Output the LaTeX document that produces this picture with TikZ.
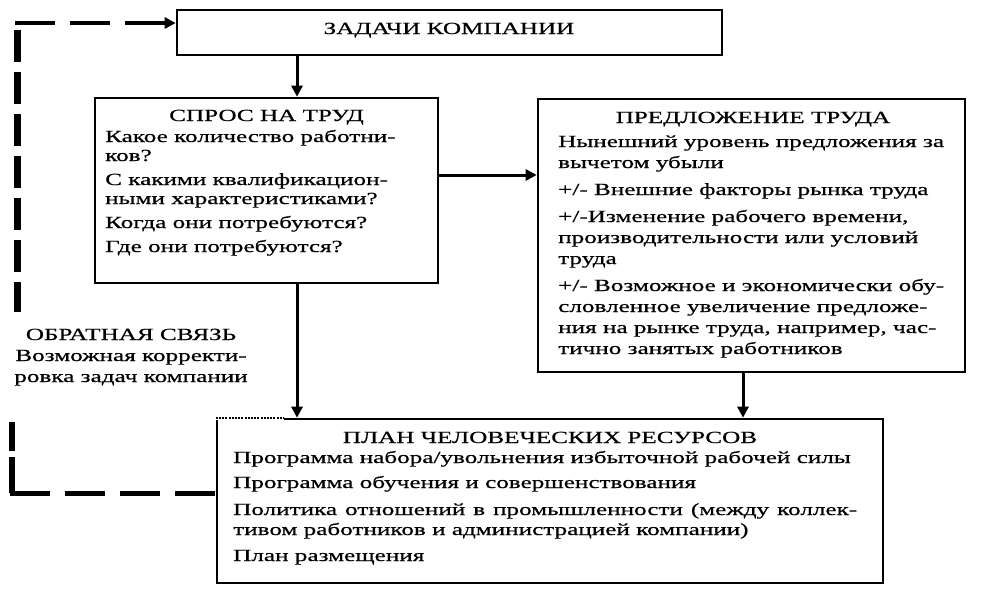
\documentclass[tikz,border=0pt]{standalone}
\usepackage{fontspec}
\setmainfont{Liberation Serif}[FakeStretch=1.48,FakeBold=0.6]
\usetikzlibrary{arrows.meta}
\begin{document}
\begin{tikzpicture}[x=1pt,y=-1pt,
  box/.style={draw, line width=2.6pt, inner sep=0pt},
  arr/.style={line width=3pt, -{Triangle[width=11pt,length=11pt]}},
  txt/.style={inner sep=0pt, font=\fontsize{17}{19}\selectfont},
  ttl/.style={inner sep=0pt, anchor=base, font=\fontsize{17}{19}\selectfont}]
\useasboundingbox[fill=white] (0,0) rectangle (981,603);

% boxes
\node[box, minimum width=545pt, minimum height=45pt] (top) at (449.5,32.5) {};
\node[box, minimum width=343pt, minimum height=185pt] (spros) at (266.5,190.5) {};
\node[box, minimum width=427pt, minimum height=273pt] (pred) at (751.5,235.5) {};
\node[box, minimum width=666pt, minimum height=164pt] (plan) at (550,501) {};
\draw[white, line width=4pt] ([xshift=-2pt]plan.north west) -- ([xshift=68pt]plan.north west);
\draw[line width=1.6pt, dash pattern=on 2pt off 1.2pt] (plan.north west) -- ([xshift=68pt]plan.north west);

% titles
\node[ttl] (tTop) at (449,34) {ЗАДАЧИ КОМПАНИИ};
\node[ttl] (tSpros) at (266.5,121) {СПРОС НА ТРУД};
\node[ttl] (tPred) at (753,123) {ПРЕДЛОЖЕНИЕ ТРУДА};
\node[ttl] (tPlan) at (550,443) {ПЛАН ЧЕЛОВЕЧЕСКИХ РЕСУРСОВ};

% lists
\node[txt, anchor=base west] (lSpros) at (105,142) {\begin{tabular}[t]{@{}l@{}}
Какое количество работни-\\
ков?\\[5pt]
С какими квалификацион-\\
ными характеристиками?\\[5pt]
Когда они потребуются?\\[5pt]
Где они потребуются?
\end{tabular}};

\node[txt, anchor=base west, font=\fontsize{17}{21}\selectfont] (lPred) at (558,147) {\begin{tabular}[t]{@{}l@{}}
Нынешний уровень предложения за\\
вычетом убыли\\[6pt]
+/- Внешние факторы рынка труда\\[6pt]
+/-Изменение рабочего времени,\\
производительности или условий\\
труда\\[6pt]
+/- Возможное и экономически обу-\\
словленное увеличение предложе-\\
ния на рынке труда, например, час-\\
тично занятых работников
\end{tabular}};

\node[txt, anchor=base west, font=\fontsize{17}{20}\selectfont] (lPlan) at (233,463) {\begin{tabular}[t]{@{}l@{}}
Программа набора/увольнения избыточной рабочей силы\\[5pt]
Программа обучения и совершенствования\\[7pt]
\makebox[624pt][s]{Политика отношений в промышленности (между коллек-}\\
тивом работников и администрацией компании)\\[6pt]
План размещения
\end{tabular}};

\node[txt, anchor=base, font=\fontsize{17}{21}\selectfont] (fb) at (131,340) {\begin{tabular}[t]{@{}c@{}}
ОБРАТНАЯ СВЯЗЬ\\
Возможная корректи-\\
ровка задач компании
\end{tabular}};

% arrows
\coordinate (cx1) at (297,0);
\coordinate (cx2) at (743,0);
\coordinate (cy1) at (0,175);
\draw[arr] (top.south -| cx1) -- (spros.north -| cx1);
\draw[arr] (spros.east |- cy1) -- (pred.west |- cy1);
\draw[arr] (spros.south -| cx1) -- (plan.north -| cx1);
\draw[arr] (pred.south -| cx2) -- (plan.north -| cx2);

% feedback dashed lines
\coordinate (fbH) at (15,23);
\coordinate (fbV1) at (17,30);
\coordinate (fbV2) at (17,312);
\coordinate (fbB1) at (12,422);
\coordinate (fbB2) at (12,493);
\draw[line width=4pt, dash pattern=on 40pt off 15pt, -{Triangle[width=11pt,length=11pt]}]
  (fbH) -- (top.west |- fbH);
\draw[line width=7pt, dash pattern=on 32pt off 10pt] (fbV1) -- (fbV2);
\draw[line width=6pt, dash pattern=on 36pt off 6pt] (fbB2) -- (fbB1);
\draw[line width=5pt, dash pattern=on 40pt off 15pt] ([xshift=-2pt]fbB2) -- (plan.west |- fbB2);
\end{tikzpicture}
\end{document}
